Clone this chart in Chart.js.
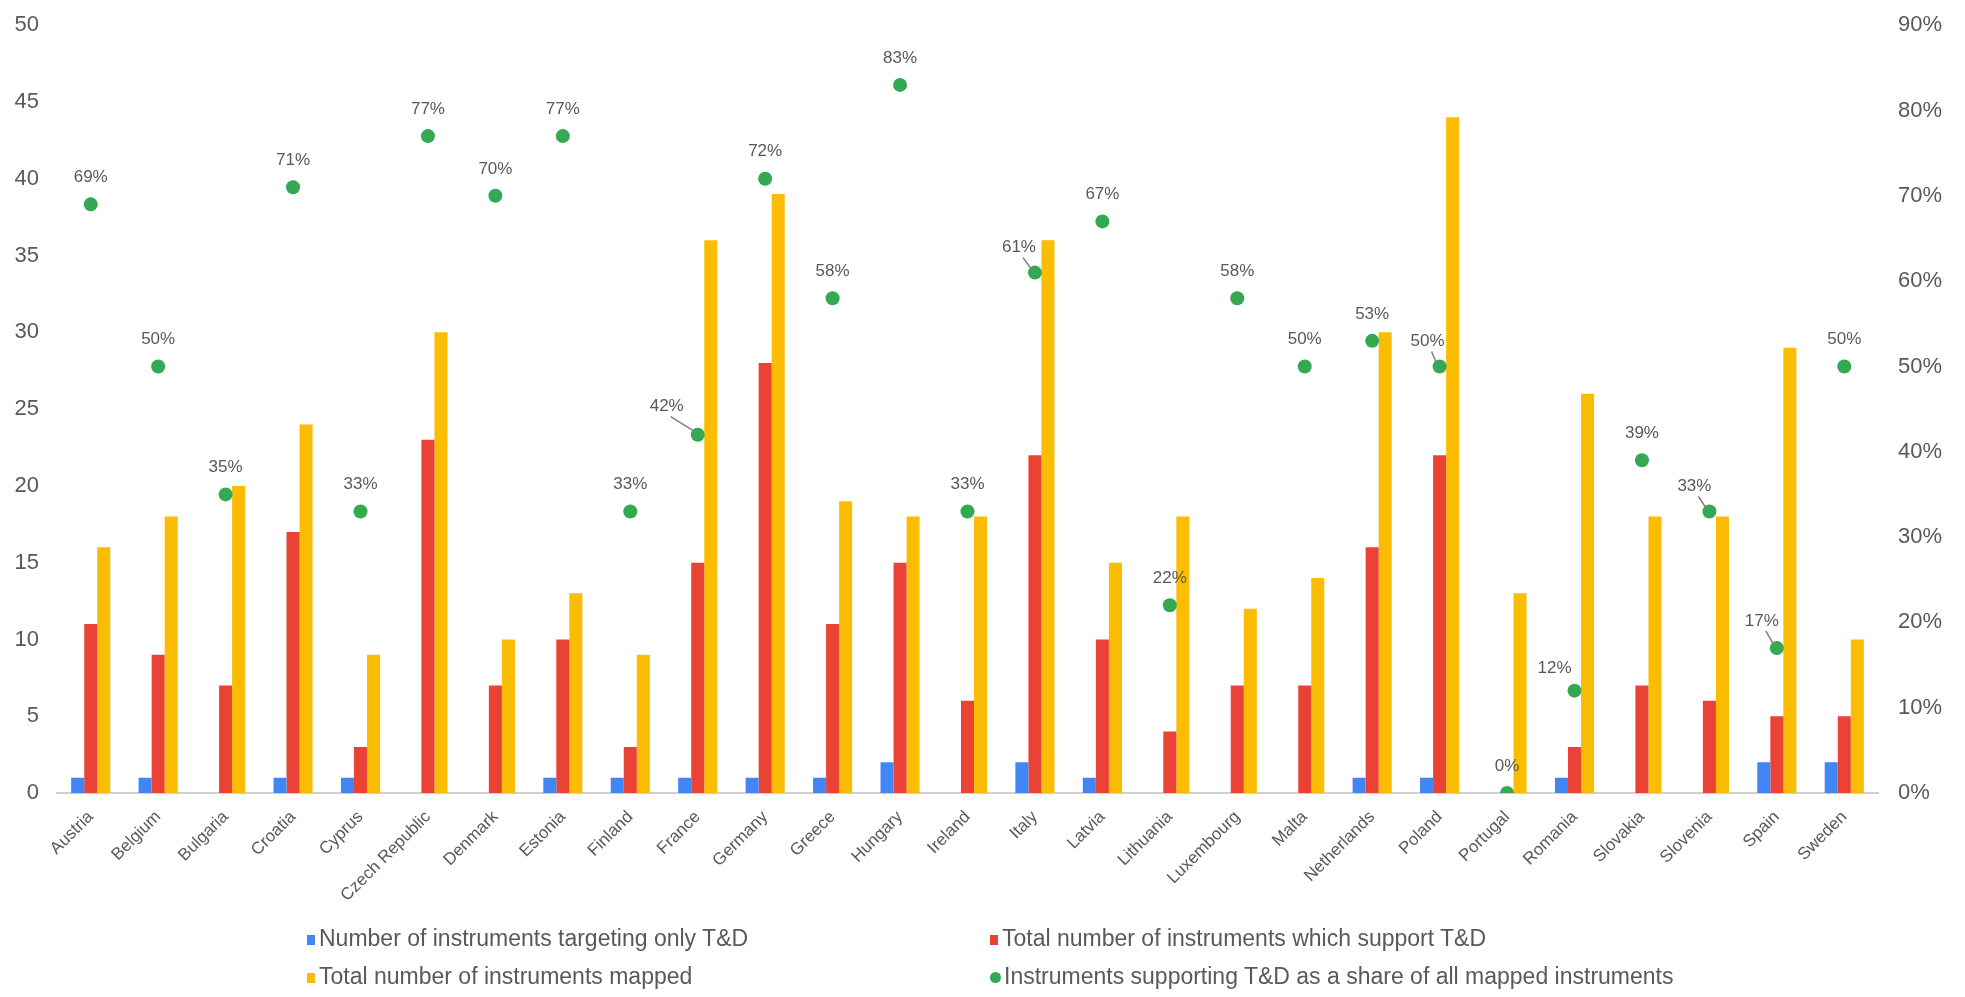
<!DOCTYPE html>
<html>
<head>
<meta charset="utf-8">
<title>T&amp;D instruments by country</title>
<script src="https://cdn.jsdelivr.net/npm/chart.js@4.4.1/dist/chart.umd.min.js"></script>
<style>
  body { margin: 0; background: #fff; }
  #wrap { position: relative; width: 1965px; height: 997px; }
  #legend {
    position: absolute; left: 307px; top: 922px;
    display: grid; grid-template-columns: 683px auto; row-gap: 6px;
    font-family: 'Liberation Sans', Arial, sans-serif; font-size: 23px; color: #595959;
  }
  #legend .item { height: 32px; line-height: 32px; white-space: nowrap; }
  #legend .mark { display: inline-block; width: 8px; height: 10px; margin-right: 4px; vertical-align: 1px; }
  #legend .mark.dot { width: 11px; height: 11px; border-radius: 50%; margin-right: 3px; }
</style>
</head>
<body>
<div id="wrap">
  <canvas id="chart" width="1965" height="997"></canvas>
  <div id="legend"></div>
</div>
<script>
var countries = ['Austria', 'Belgium', 'Bulgaria', 'Croatia', 'Cyprus', 'Czech Republic', 'Denmark',
  'Estonia', 'Finland', 'France', 'Germany', 'Greece', 'Hungary', 'Ireland', 'Italy', 'Latvia',
  'Lithuania', 'Luxembourg', 'Malta', 'Netherlands', 'Poland', 'Portugal', 'Romania', 'Slovakia',
  'Slovenia', 'Spain', 'Sweden'];

var onlyTD    = [1, 1, 0, 1, 1, 0, 0, 1, 1, 1, 1, 1, 2, 0, 2, 1, 0, 0, 0, 1, 1, 0, 1, 0, 0, 2, 2];
var supportTD = [11, 9, 7, 17, 3, 23, 7, 10, 3, 15, 28, 11, 15, 6, 22, 10, 4, 7, 7, 16, 22, 0, 3, 7, 6, 5, 5];
var mapped    = [16, 18, 20, 24, 9, 30, 10, 13, 9, 36, 39, 19, 18, 18, 36, 15, 18, 12, 14, 30, 44, 13, 26, 18, 18, 29, 10];
var sharePct  = [69, 50, 35, 71, 33, 77, 70, 77, 33, 42, 72, 58, 83, 33, 61, 67, 22, 58, 50, 53, 50, 0, 12, 39, 33, 17, 50];

var leftTicks = [0, 5, 10, 15, 20, 25, 30, 35, 40, 45, 50];
var rightTicks = [0, 10, 20, 30, 40, 50, 60, 70, 80, 90];

var font = "'Liberation Sans', Arial, sans-serif";
var grey = '#595959';

// labels that sit beside their dot instead of straight above it
var labelNudge = {
  'France':   { dx: -31, dy: -28, leader: true },
  'Italy':    { dx: -16, dy: -25, leader: true },
  'Poland':   { dx: -12, dy: -25, leader: true },
  'Romania':  { dx: -20, dy: -22 },
  'Slovenia': { dx: -15, dy: -25, leader: true },
  'Spain':    { dx: -15, dy: -27, leader: true }
};

var shareLabels = {
  id: 'shareLabels',
  afterDatasetsDraw: function (chart) {
    var meta = chart.getDatasetMeta(3);
    var ctx = chart.ctx;
    ctx.save();
    ctx.font = '17px ' + font;
    ctx.fillStyle = grey;
    ctx.textAlign = 'center';
    ctx.textBaseline = 'middle';
    meta.data.forEach(function (pt, i) {
      var n = labelNudge[countries[i]] || { dx: 0, dy: -27 };
      var lx = pt.x + n.dx, ly = pt.y + n.dy;
      if (n.leader) {
        ctx.strokeStyle = '#7f7f7f';
        ctx.lineWidth = 1.5;
        ctx.beginPath();
        ctx.moveTo(lx + 4, ly + 10);
        ctx.lineTo(pt.x - 3, pt.y - 3);
        ctx.stroke();
      }
      ctx.fillText(sharePct[i] + '%', lx, ly);
    });
    ctx.restore();
  }
};

var chart = new Chart(document.getElementById('chart'), {
  type: 'bar',
  data: {
    labels: countries,
    datasets: [
      { label: 'Number of instruments targeting only T&D', data: onlyTD, backgroundColor: '#4285F4', order: 1 },
      { label: 'Total number of instruments which support T&D', data: supportTD, backgroundColor: '#EA4335', order: 1 },
      { label: 'Total number of instruments mapped', data: mapped, backgroundColor: '#FBBC04', order: 1 },
      {
        label: 'Instruments supporting T&D as a share of all mapped instruments',
        type: 'line', data: sharePct, yAxisID: 'y1', showLine: false, order: 0,
        pointRadius: 7, pointBackgroundColor: '#34A853', pointBorderWidth: 0, backgroundColor: '#34A853'
      }
    ]
  },
  options: {
    responsive: false,
    animation: false,
    categoryPercentage: 0.58,
    barPercentage: 1.0,
    layout: { padding: { top: 7, left: 0, right: 0, bottom: 0 } },
    plugins: {
      legend: { display: false },
      tooltip: { enabled: false }
    },
    scales: {
      x: {
        grid: { display: false },
        border: { display: true, color: '#d0d0d0', width: 2 },
        ticks: { color: grey, font: { family: font, size: 17 }, minRotation: 45, maxRotation: 45, padding: 6 },
        afterFit: function (s) { s.height = 204; }
      },
      y: {
        min: 0, max: 50,
        afterBuildTicks: function (s) { s.ticks = leftTicks.map(function (v) { return { value: v }; }); },
        grid: { display: false },
        border: { display: false },
        ticks: { color: grey, font: { family: font, size: 22 }, padding: 10 },
        afterFit: function (s) { s.width = 57; }
      },
      y1: {
        position: 'right',
        min: 0, max: 90,
        afterBuildTicks: function (s) { s.ticks = rightTicks.map(function (v) { return { value: v }; }); },
        grid: { display: false },
        border: { display: false },
        ticks: { color: grey, font: { family: font, size: 22 }, padding: 12, callback: function (v) { return v + '%'; } },
        afterFit: function (s) { s.width = 87; }
      }
    }
  },
  plugins: [shareLabels]
});

// two-column legend under the plot
var legend = document.getElementById('legend');
chart.data.datasets.forEach(function (ds) {
  var item = document.createElement('div');
  item.className = 'item';
  var mark = document.createElement('span');
  mark.className = ds.type === 'line' ? 'mark dot' : 'mark';
  mark.style.background = ds.backgroundColor;
  item.appendChild(mark);
  item.appendChild(document.createTextNode(ds.label));
  legend.appendChild(item);
});
</script>
</body>
</html>
